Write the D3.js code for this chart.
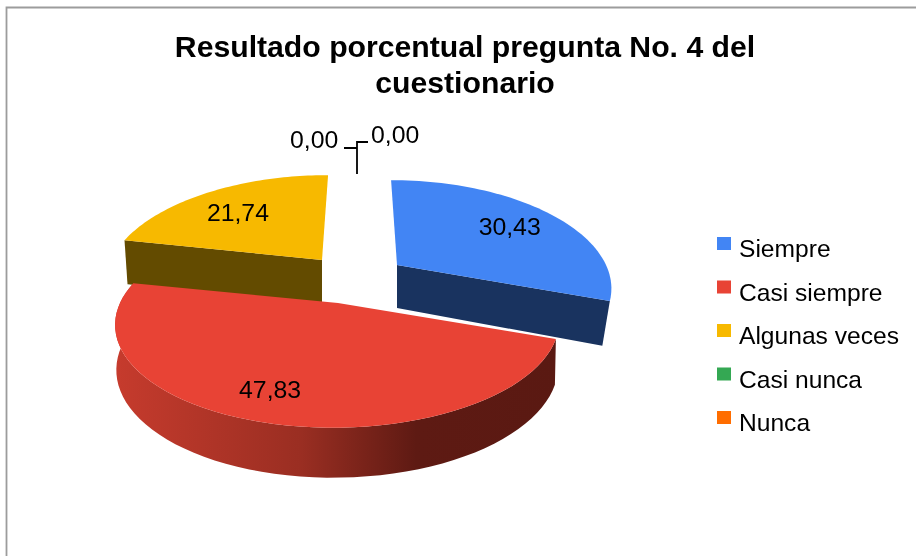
<!DOCTYPE html>
<html>
<head>
<meta charset="utf-8">
<script src="https://cdn.jsdelivr.net/npm/d3@7"></script>
<style>
  html, body { margin: 0; padding: 0; background: #fff; }
  svg { display: block; filter: blur(0.45px); }
  text { font-family: "Liberation Sans", Arial, sans-serif; fill: #000; }
</style>
</head>
<body>
<div id="chart"></div>
<script>
const categories = ['Siempre', 'Casi siempre', 'Algunas veces', 'Casi nunca', 'Nunca'];
const values = [30.43, 47.83, 21.74, 0, 0];
const valueLabels = ['30,43', '47,83', '21,74', '0,00', '0,00'];
const colors = ['#4285f4', '#e84335', '#f7b900', '#34a853', '#ff6d00'];
const titleLines = ['Resultado porcentual pregunta No. 4 del', 'cuestionario'];

const W = 916, H = 556;

const svg = d3.select('#chart').append('svg')
  .attr('width', W)
  .attr('height', H);

// frame
svg.append('path')
  .attr('d', `M6.5,${H} V7.5 H${W}`)
  .attr('fill', 'none')
  .attr('stroke', '#9c9c9c')
  .attr('stroke-width', 1.8);

svg.selectAll('.title').data(titleLines).join('text')
  .attr('class', 'title')
  .attr('x', 465)
  .attr('y', (d, i) => 57 + i * 36)
  .attr('text-anchor', 'middle')
  .style('font-size', '30.2px')
  .style('font-weight', 'bold')
  .text(d => d);

// red side wall shading
const grad = svg.append('defs').append('linearGradient')
  .attr('id', 'redWall')
  .attr('gradientUnits', 'userSpaceOnUse')
  .attr('x1', 115).attr('x2', 558).attr('y1', 0).attr('y2', 0);
grad.append('stop').attr('offset', 0).attr('stop-color', '#c63b2d');
grad.append('stop').attr('offset', 0.42).attr('stop-color', '#9a2e22');
grad.append('stop').attr('offset', 0.68).attr('stop-color', '#5e1a13');
grad.append('stop').attr('offset', 1).attr('stop-color', '#5a1912');

const arcs = d3.pie().sort(null).value(d => d)(values);

// the tilted disc: pie angle -> page position around each slice's own apex
const ry = 101, persp = 0.19, vanishX = 360, depth = 44;
const apex = [
  { x: 397, y: 265, wall: '#19335f', rx: 209, squeeze: 0.97, depth: 43 },
  { x: 338, y: 303, wall: 'url(#redWall)', rx: 218, squeeze: 0.995, depth: depth },
  { x: 322, y: 260, wall: '#634b00', rx: 211, squeeze: 1, depth: depth }
];

function project(a, angle, r) {
  const u = Math.sin(angle) * r, v = -Math.cos(angle) * r;
  const s = 1 / (1 - persp * v);
  return [
    a.x + a.rx * u * s + (a.x - vanishX) * (s - 1),
    a.y + ry * v * s
  ];
}

function drop(p, a) {
  // the wall gets a little taller towards the viewer
  const front = Math.max(0, (p[1] - a.y) / 125);
  return [vanishX + (p[0] - vanishX) * a.squeeze, p[1] + a.depth + 6 * front];
}

function rim(a, d) {
  return d3.range(0, 61).map(i => project(a, d.startAngle + (d.endAngle - d.startAngle) * i / 60, 1));
}

const line = d3.line();

// yellow and blue first, the red slice overlaps them
const order = [2, 0, 1];

order.forEach(i => {
  const a = apex[i], d = arcs[i], g = svg.append('g').attr('class', 'slice');
  const outer = rim(a, d);
  const centre = [a.x, a.y];
  let wall;
  if (i === 0) wall = [centre, outer[60], drop(outer[60], a), [a.x, a.y + a.depth]];
  if (i === 2) wall = [outer[0], centre, [a.x, a.y + a.depth], [outer[0][0] + 3, outer[0][1] + a.depth]];
  if (i === 1) wall = outer.concat(outer.map(p => drop(p, a)).reverse());

  g.append('path')
    .attr('d', line(wall) + 'Z')
    .attr('fill', a.wall);
  g.append('path')
    .attr('d', line([centre].concat(outer)) + 'Z')
    .attr('fill', colors[i]);
});

// value labels
const labelNudge = [[0, 0], [-15, 4], [0, 4]];
arcs.slice(0, 3).forEach((d, i) => {
  const p = project(apex[i], (d.startAngle + d.endAngle) / 2, 0.73);
  svg.append('text')
    .attr('class', 'value-label')
    .attr('x', p[0] + labelNudge[i][0])
    .attr('y', p[1] + 9 + labelNudge[i][1])
    .attr('text-anchor', 'middle')
    .style('font-size', '24.8px')
    .text(valueLabels[i]);
});

// leaders for the two empty slices
svg.append('path')
  .attr('d', 'M344,148H357V174M368,142H357V174')
  .attr('fill', 'none')
  .attr('stroke', '#000')
  .attr('stroke-width', 1.8);
svg.append('text').attr('x', 290).attr('y', 148).style('font-size', '24.8px').text(valueLabels[3]);
svg.append('text').attr('x', 371).attr('y', 143).style('font-size', '24.8px').text(valueLabels[4]);

// legend
const legendY = d3.scalePoint().domain(categories).range([248, 422]);
const legend = svg.selectAll('.legend').data(categories).join('g')
  .attr('class', 'legend')
  .attr('transform', d => `translate(717, ${legendY(d)})`);
legend.append('rect')
  .attr('y', -11)
  .attr('width', 14)
  .attr('height', 13)
  .attr('fill', (d, i) => colors[i]);
legend.append('text')
  .attr('x', 22)
  .attr('y', 9)
  .style('font-size', '24.6px')
  .text(d => d);
</script>
</body>
</html>
